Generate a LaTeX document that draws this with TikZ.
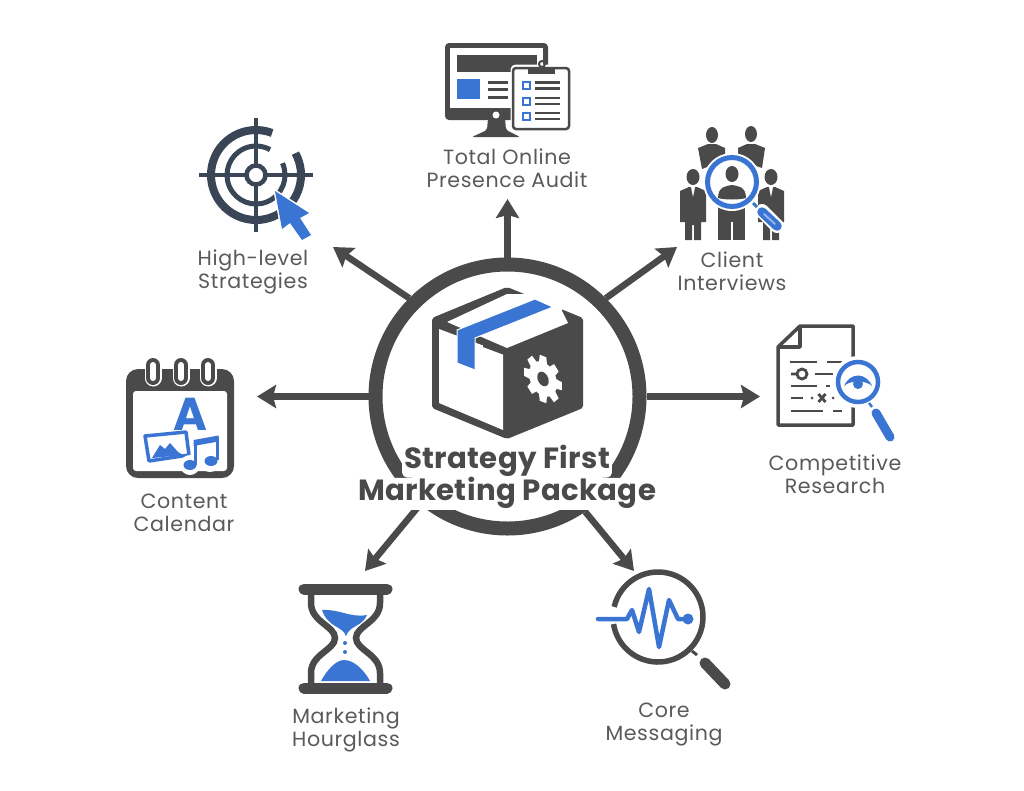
\documentclass[tikz,border=0pt]{standalone}
\usepackage{fontspec}
\setmainfont{Poppins}[LetterSpace=3]
\newfontfamily\bannerfont{Poppins}[LetterSpace=1.2]
\usetikzlibrary{arrows.meta,positioning}
\definecolor{ink}{HTML}{4A4A4A}
\definecolor{navy}{HTML}{3A4656}
\definecolor{brand}{HTML}{3B75D3}
\definecolor{labelgray}{HTML}{5A5A5A}
\tikzset{%
   x=1pt, y=-1pt,
   flow/.style={draw=ink, line width=6.5pt, -{Stealth[length=19pt,width=23pt,inset=3pt]}},
   hubring/.style={circle, draw=ink, line width=14pt, fill=white, minimum size=264pt, inner sep=0pt},
   caption/.style={align=center, text=labelgray, inner sep=0pt, font=\fontsize{20.6}{23}\selectfont},
   banner/.style={fill=white, rounded corners=5pt, text=ink, inner sep=2pt, text height=21pt, text depth=7pt,
     font=\bannerfont\fontsize{29.2}{31}\selectfont\bfseries},
   client/.pic={
     \fill[ink] (0,0) ellipse [x radius=6.5, y radius=8];
     \fill[ink] (-4,10) -- (4,10) -- (13,14) -- (13,45) -- (8,45) -- (8,63) -- (1,63) -- (1,48) -- (-1,48) -- (-1,63)
       -- (-8,63) -- (-8,45) -- (-13,45) -- (-13,14) -- cycle;
     \fill[white] (-2,10) -- (2,10) -- (0,20) -- cycle;
   },
}
\begin{document}
\begin{tikzpicture}
   \useasboundingbox[fill=white] (0,0) rectangle (1024,790);
   \node[hubring] (hub) at (507.5,396.5) {};
   \coordinate (tipAudit) at (507.5,199);
   \coordinate (tipClient) at (677,247);
   \coordinate (tipResearch) at (760,396.5);
   \coordinate (tipCore) at (634,571);
   \coordinate (tipHourglass) at (365,571);
   \coordinate (tipCalendar) at (257,396.5);
   \coordinate (tipStrategy) at (333,247);
   \draw[flow] (hub.90) -- (tipAudit);
   \draw[flow] (hub.45) -- (tipClient);
   \draw[flow] (hub.0) -- (tipResearch);
   \draw[flow] (hub.-56) -- (tipCore);
   \draw[flow] (hub.-129) -- (tipHourglass);
   \draw[flow] (hub.180) -- (tipCalendar);
   \draw[flow] (hub.135) -- (tipStrategy);
   % box
   \fill[ink, rounded corners=2pt] (507,287) -- (583,318) -- (583,408) -- (507,439) -- (432,408) -- (432,318) -- cycle;
   \fill[white] (439,329) -- (503,353) -- (503,430) -- (439,403) -- cycle;
   \fill[white] (507,294) -- (528,294) -- (560,307) -- (568,323) -- (507,348) -- (447,322) -- cycle;
   \fill[white] (526,292) -- (562,292) -- (562,311) -- (526,311) -- cycle;
   \fill[ink] (445,321) -- (452,325) -- (452,331) -- (445,328) -- cycle;
   \fill[ink] (483,342) -- (507,350) -- (507,356) -- (483,347) -- cycle;
   \filldraw[brand, draw=white, line width=1pt] (535,299) -- (553,307) -- (475,338) -- (475,370) -- (457,363) -- (457,330) -- cycle;
   \begin{scope}[shift={(543,379)}, yslant=-0.38, xscale=.82]
     \foreach \a in {0,45,...,315}
       \fill[white, rotate=\a] (-5,-15) -- (5,-15) -- (4,-23) -- (-4,-23) -- cycle;
     \fill[white] (0,0) circle (17);
     \fill[ink] (0,0) circle (7);
   \end{scope}
   % title
   \node[banner] (titleTop) at (507,461.5) {Strategy First};
   \node[banner, below=0pt of titleTop] (titleBottom) {Marketing Package};
   % audit
   \fill[ink, rounded corners=4pt] (445,43) rectangle (548,120);
   \fill[white] (450,48) rectangle (543,108);
   \fill[ink] (457,55) rectangle (537,72);
   \fill[brand] (457,79) rectangle (480,99);
   \foreach \y in {82,89.5,97} \draw[ink, line width=3pt] (488,\y) -- (508,\y);
   \fill[ink, rounded corners=2pt] (488,118) -- (505,118) -- (506,130) -- (520,137) -- (472,137) -- (487,130) -- cycle;
   \fill[white] (496,115) circle (3.5);
   \filldraw[draw=white, fill=white, line width=5pt, rounded corners=3pt] (513,67) rectangle (569,129);
   \draw[ink, line width=2.5pt, rounded corners=3pt] (513,68) rectangle (569,129);
   \fill[ink] (528,67) rectangle (555,74);
   \draw[ink, line width=2pt] (542,64) circle (3);
   \foreach \y in {85.5,101,116} {
     \draw[brand, line width=2pt] (522.5,\y-3.5) rectangle (529.5,\y+3.5);
     \draw[ink, line width=2.5pt] (535,\y-3) -- (560,\y-3) (535,\y+3) -- (560,\y+3);
   }
   \node[caption] (labelAudit) at (507,168) {Total Online\\Presence Audit};
   % clients
   \fill[ink] (698,148) -- (708,144) -- (716,144) -- (725,148) -- (725,160) -- (702,169) -- cycle;
   \fill[ink] (712,135) ellipse [x radius=6, y radius=8];
   \fill[ink] (738,148) -- (747,144) -- (755,144) -- (765,148) -- (762,168) -- (738,160) -- cycle;
   \fill[ink] (751,134) ellipse [x radius=6, y radius=8];
   \pic at (693,177) {client};
   \pic at (771,177) {client};
   \fill[ink] (718,205) rectangle (745,240);
   \fill[white] (731,222) rectangle (733,240);
   \fill[white] (732,182) circle (29);
   \draw[brand, line width=5pt] (732,182) circle (24.5);
   \fill[ink] (732,174) ellipse [x radius=6.5, y radius=8];
   \fill[ink] (718,198) .. controls (718,186) and (727,186) .. (732,185) .. controls (737,186) and (746,186) .. (746,198)
     .. controls (740,200) and (724,200) .. cycle;
   \draw[white, line width=14pt, line cap=round] (762,211) -- (777,226);
   \draw[brand, line width=3pt] (753,203) -- (757,207);
   \draw[brand, line width=9.5pt, line cap=round] (762,212) -- (777,226);
   \draw[brand!55!white, line width=2pt, line cap=round] (764,214) -- (775,224);
   \node[caption] (labelClient) at (732,271.5) {Client\\Interviews};
   % research
   \draw[ink, line width=3.5pt, line join=round] (800,326) -- (853,326) -- (853,425) -- (778,425) -- (778,347) -- cycle;
   \draw[ink, line width=3.5pt, line join=round] (800,326) -- (800,347) -- (778,347);
   \foreach \xa/\xb/\y in {790/817/362,827/842/362,815/833/374,791/817/386,826/830/386,791/803/398,791/823/411,833/842/411}
     \draw[ink, line width=2.8pt] (\xa,\y) -- (\xb,\y);
   \draw[ink, line width=2.8pt] (802,374) circle (5) (791,374) -- (796,374);
   \fill[ink] (812,398) circle (1.5) (833,398) circle (1.5);
   \draw[ink, line width=2.8pt] (818.5,394) -- (825.5,402) (825.5,394) -- (818.5,402);
   \fill[white] (858,382) circle (26);
   \draw[brand, line width=4.5pt] (858,382) circle (20);
   \fill[brand] (844,386) .. controls (850,372) and (866,372) .. (872,386) .. controls (866,380) and (850,380) .. cycle;
   \fill[brand] (858,384) circle (5);
   \draw[brand, line width=2.5pt] (869,403) -- (872,407);
   \draw[brand, line width=9pt, line cap=round] (876,413) -- (890,437);
   \node[caption] (labelResearch) at (835,474.5) {Competitive\\Research};
   % core messaging
   \draw[ink, line width=5.5pt] (658,617) ++(193:45) arc[start angle=193, end angle=531, radius=45];
   \draw[ink, line width=3pt] (692,651) -- (697,655);
   \draw[ink, line width=11pt, line cap=round] (705,663) -- (725,684);
   \draw[brand, line width=4.5pt, line join=round, line cap=round] (598,619) -- (627,619) -- (632,610) -- (639,632)
     -- (649,589) -- (659,647) -- (669,600) -- (678,619) -- (688,619);
   \fill[brand] (688,619) circle (5.5);
   \node[caption] (labelCore) at (664,724) {Core\\Messaging};
   % hourglass
   \draw[ink, line width=11pt, line cap=round] (304,589) -- (387,589) (304,688) -- (387,688);
   \draw[ink, line width=6.5pt] (311,592) -- (311,603) .. controls (311,622) and (335,626) .. (335,638)
     .. controls (335,650) and (311,654) .. (311,673) -- (311,686);
   \draw[ink, line width=6.5pt] (380,592) -- (380,603) .. controls (380,622) and (356,626) .. (356,638)
     .. controls (356,650) and (380,654) .. (380,673) -- (380,686);
   \fill[brand] (322,610) .. controls (340,609) and (350,618) .. (367,615) .. controls (362,627) and (350,625) .. (346,636)
     .. controls (343,626) and (328,628) .. cycle;
   \fill[brand] (345,643) circle (2) (345,652) circle (2);
   \fill[brand] (321,681) .. controls (327,670) and (336,660) .. (344,660) .. controls (354,660) and (364,670) .. (370,681) -- cycle;
   \node[caption] (labelHourglass) at (346,730) {Marketing\\Hourglass};
   % calendar
   \fill[ink, rounded corners=12pt] (126,369) rectangle (234,478);
   \fill[white, rounded corners=3pt] (133,391) rectangle (227,471);
   \foreach \x in {153,181,208} {
     \draw[white, line width=17pt, line cap=round] (\x,365) -- (\x,378);
     \draw[ink, line width=14pt, line cap=round] (\x,365) -- (\x,378);
     \draw[white, line width=6pt, line cap=round] (\x,365) -- (\x,378);
   }
   \node[text=brand, inner sep=0pt, font=\fontsize{46}{46}\selectfont\bfseries] (letterA) at (190,414) {A};
   \draw[brand, line width=3.5pt, line join=round] (145,436) -- (186,432) -- (189,455) -- (149,461) -- cycle;
   \fill[brand] (152,458) -- (160,445) -- (165,449) -- (170,443) -- (178,452) -- (183,455) -- cycle;
   \draw[white, line width=6pt] (195,465) -- (195,442) -- (217,437) -- (217,460);
   \fill[white] (190,465) circle (10) (210,462) circle (10);
   \draw[brand, line width=3pt] (195,465) -- (195,442) (217,437) -- (217,460);
   \fill[brand] (193.5,446) -- (193.5,440) -- (218.5,435.5) -- (218.5,441.5) -- cycle;
   \fill[brand] (190,465) ellipse [x radius=6.5, y radius=5] (211,461) ellipse [x radius=6.5, y radius=5];
   \node[caption] (labelCalendar) at (184,512.5) {Content\\Calendar};
   % target
   \draw[navy, line width=8pt] (256,175) ++(-29:45) arc[start angle=-29, end angle=291, radius=45];
   \draw[navy, line width=5pt] (256,175) ++(-24:29) arc[start angle=-24, end angle=299, radius=29];
   \draw[navy, line width=4pt] (199,175) -- (313,175) (256,118) -- (256,232);
   \fill[white] (256,175) circle (11);
   \draw[navy, line width=4.5pt] (256,175) circle (9.5);
   \draw[white, line width=3pt, line join=round] (275,191) -- (309,213) -- (300,218) -- (311,235)
     -- (302,240) -- (290,223) -- (282,229) -- cycle;
   \fill[brand] (275,191) -- (309,213) -- (300,218) -- (311,235) -- (302,240) -- (290,223) -- (282,229) -- cycle;
   \node[caption] (labelStrategy) at (253,272) {High-level\\Strategies};
\end{tikzpicture}
\end{document}
